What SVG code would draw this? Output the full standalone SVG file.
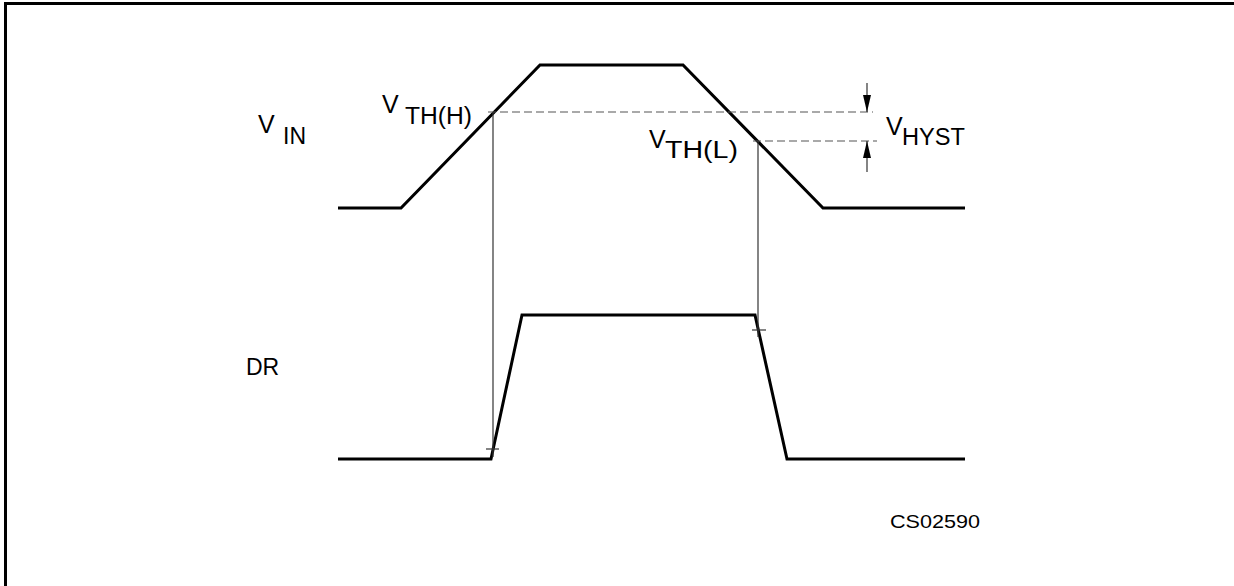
<svg xmlns="http://www.w3.org/2000/svg" width="1234" height="586" viewBox="0 0 1234 586">
<style>
.frame{stroke:#000;stroke-width:3;fill:none}
.wave{stroke:#000;stroke-width:3;fill:none;stroke-linejoin:miter}
.thin{stroke:#333;stroke-width:1.2;fill:none}
.dash{stroke:#555;stroke-width:1.2;fill:none;stroke-dasharray:8,4}
.lbl{font-family:"Liberation Sans",Arial,sans-serif;fill:#000}
.big{font-size:25px}
.sub{font-size:23px}
</style>
<g id="frame">
<path class="frame" d="M5.5,586 L5.5,3.5 L1234,3.5"/>
</g>
<g id="vin-wave">
<path class="wave" d="M338,208 L401,208 L540,65 L683,65 L823,208 L965,208"/>
</g>
<g id="dr-wave">
<path class="wave" d="M338,459 L491,459 L522,315 L755,315 L787,459 L965,459"/>
</g>
<g id="connectors">
<path class="dash" d="M488,112 L873,112"/>
<path class="dash" d="M753,141 L877,141"/>
<path class="thin" d="M493,112 L493,457"/>
<path class="thin" d="M486,449 L499,449"/>
<path class="thin" d="M758,141 L758,337"/>
<path class="thin" d="M752,330 L766,330"/>
<path class="thin" d="M867,83 L867,112"/>
<path class="thin" d="M867,141 L867,172"/>
<path d="M863,95 L871,95 L867,112 Z" fill="#000"/>
<path d="M863,158 L871,158 L867,141 Z" fill="#000"/>
</g>
<g id="label-vin">
<text class="lbl big" x="258" y="133">V</text>
<text class="lbl sub" x="283" y="144">IN</text>
</g>
<g id="label-vthh">
<text class="lbl big" x="382" y="113">V</text>
<text class="lbl sub" x="405" y="124" textLength="67" lengthAdjust="spacingAndGlyphs">TH(H)</text>
</g>
<g id="label-vthl">
<text class="lbl big" x="649" y="148">V</text>
<text class="lbl sub" x="665" y="158" textLength="73" lengthAdjust="spacingAndGlyphs">TH(L)</text>
</g>
<g id="label-vhyst">
<text class="lbl big" x="886" y="135">V</text>
<text class="lbl sub" x="902" y="145" textLength="63" lengthAdjust="spacingAndGlyphs">HYST</text>
</g>
<g id="label-dr">
<text class="lbl sub" x="246" y="375">DR</text>
</g>
<g id="label-code">
<text class="lbl" font-size="19" x="890" y="528" textLength="90" lengthAdjust="spacingAndGlyphs">CS02590</text>
</g>
</svg>
